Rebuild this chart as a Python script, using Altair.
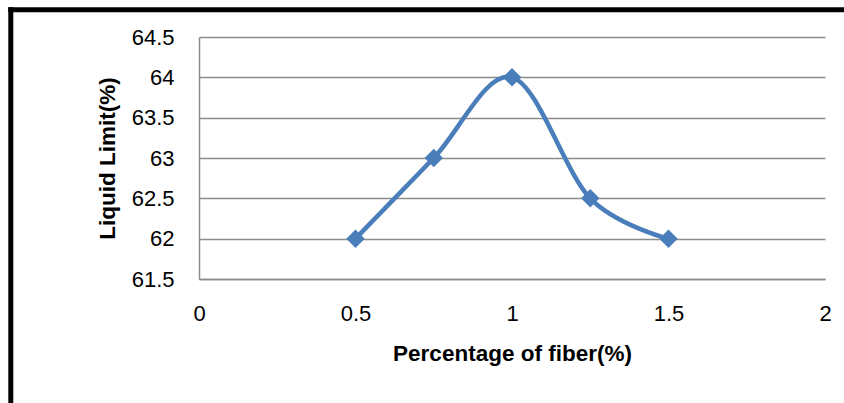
import altair as alt
import pandas as pd

fiber = [0.5, 0.75, 1.0, 1.25, 1.5]
liquid_limit = [62.0, 63.0, 64.0, 62.5, 62.0]
x_ticks = [0, 0.5, 1, 1.5, 2]
y_ticks = [61.5, 62, 62.5, 63, 63.5, 64, 64.5]

df = pd.DataFrame({"fiber": fiber, "ll": liquid_limit})

W, H = 626, 242
L, T = 199, 37
FONT = "Liberation Sans"
BLUE = "#4A7EBB"
GRID = "#8C8C8C"

xenc = alt.X("fiber:Q",
             scale=alt.Scale(domain=[0, 2], nice=False),
             axis=alt.Axis(values=x_ticks, format=".1~f", grid=False, ticks=False,
                           domainColor=GRID, domainWidth=1.5,
                           labelFont=FONT, labelFontSize=22, labelColor="black",
                           labelPadding=24, labelFlush=False, labelOverlap=False,
                           title="Percentage of fiber(%)", titleFont=FONT,
                           titleFontSize=22.5, titleFontWeight="bold", titleColor="black",
                           titlePadding=18))
yenc = alt.Y("ll:Q",
             scale=alt.Scale(domain=[61.5, 64.5], nice=False, zero=False),
             axis=alt.Axis(values=y_ticks, format=".1~f", grid=True, ticks=False,
                           gridColor=GRID, gridWidth=1.5,
                           domainColor=GRID, domainWidth=1.5,
                           labelFont=FONT, labelFontSize=22, labelColor="black",
                           labelPadding=25, labelFlush=False, labelOverlap=False,
                           title="Liquid Limit(%)", titleFont=FONT,
                           titleFontSize=22.5, titleFontWeight="bold", titleColor="black",
                           titlePadding=12))

base = alt.Chart(df)
line = base.mark_line(interpolate="cardinal", color=BLUE, strokeWidth=4.5).encode(x=xenc, y=yenc)
pts = base.mark_point(shape="diamond", filled=True, color=BLUE, size=340, opacity=1).encode(x="fiber:Q", y="ll:Q")

frame_left = alt.Chart(pd.DataFrame({"a": [0]})).mark_rule(color="black", strokeWidth=5).encode(
    x=alt.value(10.8 - L), y=alt.value(7.3 - T), y2=alt.value(403 - T + 5))
frame_top = alt.Chart(pd.DataFrame({"a": [0]})).mark_rule(color="black", strokeWidth=5).encode(
    y=alt.value(9.8 - T), x=alt.value(8.3 - L), x2=alt.value(844 - L + 5))

chart = alt.layer(line, pts, frame_left, frame_top).properties(
    width=W, height=H,
    autosize=alt.AutoSizeParams(type="none"),
    padding={"left": L, "top": T, "right": 844 - L - W, "bottom": 403 - T - H},
    background="white",
).configure_view(stroke=None)

chart.save("out.html", embed_options={"renderer": "svg", "actions": False})
